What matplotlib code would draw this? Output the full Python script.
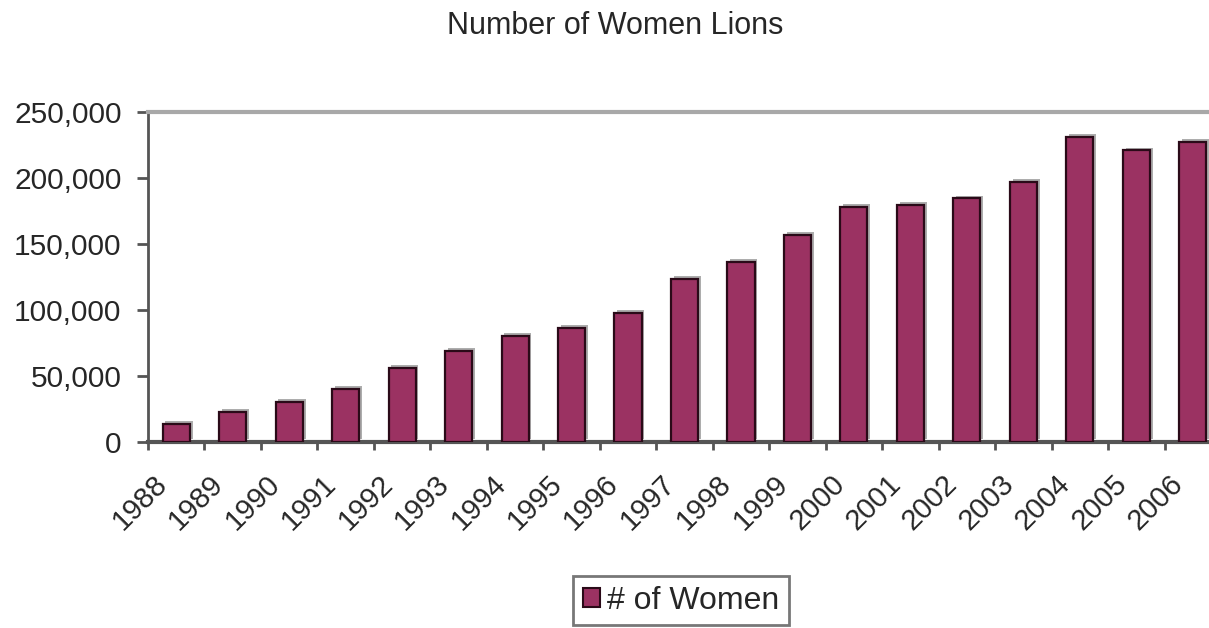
import numpy as np
import matplotlib
matplotlib.use('Agg')
import matplotlib.pyplot as plt
import matplotlib.patheffects as pe
from matplotlib.patches import Patch

plt.rcParams['font.family'] = ['Liberation Sans', 'DejaVu Sans']

years = ['1988', '1989', '1990', '1991', '1992', '1993', '1994', '1995', '1996', '1997',
         '1998', '1999', '2000', '2001', '2002', '2003', '2004', '2005', '2006']
women = [14000, 23000, 30500, 40000, 56000, 69000, 80500, 86500, 98000, 123500,
         136500, 157000, 178000, 179500, 184500, 197000, 231000, 221000, 227500]

bar_color = '#9b3262'
txt_color = '#262626'

fig = plt.figure(figsize=(12.09, 6.28), dpi=100, facecolor='w')
# plot area runs slightly past the right edge, as in the original crop
ax = fig.add_axes([148/1209, 1-442/628, (1221-148)/1209, (442-112)/628])

x = np.arange(len(years))
bars = ax.bar(x, women, width=0.48, color=bar_color, edgecolor='#2a0a18', linewidth=1.6, zorder=3)
for b in bars:
    b.set_path_effects([pe.SimplePatchShadow(offset=(2, 2), shadow_rgbFace='#8a8a8a', alpha=0.7),
                        pe.Normal()])

ax.set_xlim(-0.5, len(years) - 0.5)
ax.set_ylim(0, 250000)
ax.set_yticks(np.arange(0, 250001, 50000))
ax.set_yticklabels(['{:,}'.format(v) for v in range(0, 250001, 50000)], fontsize=21.5, color=txt_color)

# category ticks sit between the bars; labels hang a bit left of the bar centres
ax.set_xticks(np.arange(-0.5, len(years), 1.0))
ax.set_xticklabels([])
ax.set_xticks(x - 0.42, minor=True)
ax.set_xticklabels(years, minor=True, rotation=45, ha='right', va='top',
                   fontsize=21, color=txt_color, rotation_mode='anchor')
ax.tick_params(axis='x', which='minor', length=0, pad=20)
ax.tick_params(axis='x', which='major', direction='out', length=6, width=2, color='#555555')
ax.tick_params(axis='y', direction='out', length=8, width=2, color='#555555', pad=11)

ax.spines['right'].set_visible(False)
ax.spines['top'].set_color('#a8a8a8')
ax.spines['top'].set_linewidth(3)
ax.spines['left'].set_color('#555555')
ax.spines['left'].set_linewidth(2)
ax.spines['bottom'].set_color('#555555')
ax.spines['bottom'].set_linewidth(3)

fig.text(615/1209, 1-26/628, 'Number of Women Lions', ha='center', va='center',
         fontsize=22, color=txt_color)

handle = Patch(facecolor=bar_color, edgecolor='#2a0a18', linewidth=1.5)
leg = fig.legend(handles=[handle], labels=['# of Women'], loc='upper center',
                 bbox_to_anchor=(681/1209, 1-576/628), borderaxespad=0, fontsize=23,
                 frameon=True, fancybox=False, handlelength=0.55, handleheight=0.55,
                 handletextpad=0.2, borderpad=0.3, labelcolor=txt_color)
leg.get_frame().set_edgecolor('#555555')
leg.get_frame().set_linewidth(2)

plt.savefig('out.png', dpi=100)
